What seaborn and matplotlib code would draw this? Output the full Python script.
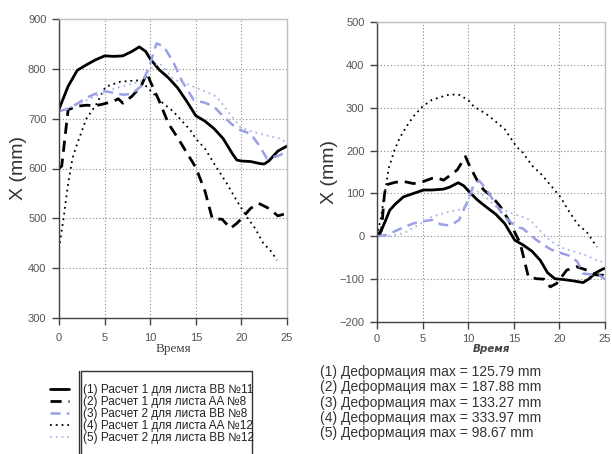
import numpy as np
import pandas as pd
import matplotlib
matplotlib.use("Agg")
import matplotlib.pyplot as plt
import seaborn as sns
from matplotlib.lines import Line2D
from matplotlib.patches import Rectangle

# ---------------- data ----------------
labels = ["(1) Расчет 1 для листа BB №11",
          "(2) Расчет 1 для листа AA №8",
          "(3) Расчет 2 для листа BB №8",
          "(4) Расчет 1 для листа AA №12",
          "(5) Расчет 2 для листа BB №12"]
info = ["(1) Деформация max = 125.79 mm",
        "(2) Деформация max = 187.88 mm",
        "(3) Деформация max = 133.27 mm",
        "(4) Деформация max = 333.97 mm",
        "(5) Деформация max = 98.67 mm"]
xticks = [0, 5, 10, 15, 20, 25]
yticks_left = [300, 400, 500, 600, 700, 800, 900]
yticks_right = [-200, -100, 0, 100, 200, 300, 400, 500]

# left panel
L1_x = [0, 1, 2, 3, 4, 5, 6, 7, 8, 8.8, 9.5, 10, 11, 12, 13, 14, 15, 16, 17, 18, 19, 19.5, 20, 21, 22, 22.5, 23, 24, 25]
L1_y = [719, 765, 797, 808, 818, 826, 825, 826, 835, 844, 835, 820, 798, 782, 762, 735, 706, 695, 680, 660, 630, 617, 615, 614, 610, 609, 615, 635, 645]
L2_x = [0, 0.3, 1, 2, 3, 4, 5, 6, 6.5, 7, 7.5, 8, 9, 9.65, 10, 11, 12, 13, 14, 15, 16, 16.8, 17.9, 18.8, 19.5, 20.2, 21, 21.9, 23, 24, 25]
L2_y = [600, 605, 718, 725, 727, 726, 730, 735, 740, 731, 738, 745, 765, 792, 775, 735, 690, 662, 632, 602, 555, 500, 498, 480, 490, 503, 520, 530, 520, 505, 510]
L3_x = [0, 1, 2, 3, 4, 5, 6, 7, 8, 9, 10, 10.7, 11.5, 12.6, 13.5, 14.8, 16, 17, 18, 19, 19.9, 21, 22, 22.8, 24, 25]
L3_y = [715, 720, 730, 742, 750, 755, 752, 748, 750, 765, 810, 851, 845, 811, 775, 737, 732, 724, 705, 688, 677, 670, 645, 620, 625, 634]
L4_x = [0, 0.5, 1, 1.5, 2, 3, 4, 5.1, 6.7, 8, 8.9, 10, 11.4, 12.5, 14.4, 15, 16, 17, 18.4, 19.5, 20.6, 21.5, 22.4, 23.2, 23.9]
L4_y = [439, 500, 570, 622, 650, 700, 726, 764, 774, 776, 777, 757, 731, 715, 677, 660, 640, 610, 570, 535, 503, 480, 450, 435, 416]
L5_x = [0, 2, 4, 6, 8, 9, 10, 11, 12.6, 14, 15, 16, 17.3, 18.5, 19.9, 21, 22, 23, 24.3, 25]
L5_y = [715, 728, 745, 760, 770, 775, 800, 812, 778, 770, 762, 755, 744, 715, 683, 675, 670, 665, 660, 650]

# right panel
R1_x = [0, 0.3, 1, 1.4, 2, 2.9, 4, 5.1, 6, 7.3, 8, 8.9, 9.5, 10.2, 11, 12, 13, 14, 15.1, 16, 17, 17.9, 18.7, 19.5, 20.5, 21.5, 22.6, 23.2, 24, 24.8, 25]
R1_y = [0, 5, 40, 61, 75, 92, 100, 108, 108, 110, 115, 125, 118, 102, 85, 68, 52, 30, -9, -20, -35, -56, -85, -99, -101, -104, -108, -100, -85, -76, -75]
R2_x = [0, 0.5, 0.8, 1, 2, 2.9, 4, 5.1, 6, 6.5, 7.3, 8, 8.8, 9.7, 10.2, 11, 11.7, 12.5, 13.5, 14.5, 15.7, 16.6, 17.5, 18.3, 19, 19.7, 20.8, 21.9, 23, 24, 24.8, 25]
R2_y = [0, 15, 95, 120, 126, 128, 123, 128, 135, 137, 131, 142, 155, 186, 162, 130, 108, 95, 70, 35, -16, -95, -99, -100, -118, -110, -79, -71, -79, -90, -91, -95]
R3_x = [0, 1, 2, 3, 4, 5, 6, 7, 8, 9, 10, 10.6, 11.2, 12, 13, 14, 15.3, 16, 17.5, 19, 19.7, 21.2, 22, 22.6, 24.4, 25]
R3_y = [0, 3, 12, 22, 30, 35, 38, 28, 25, 38, 85, 120, 130, 110, 75, 45, 22, 18, -9, -30, -36, -46, -60, -87, -91, -100]
R4_x = [0, 0.4, 0.85, 1.3, 1.9, 2.5, 3.2, 4, 5, 6, 7, 8, 9, 10, 10.6, 12, 13, 14, 15.3, 16, 17, 18, 19, 20.1, 21, 22, 23, 24.1]
R4_y = [0, 40, 100, 160, 200, 230, 255, 280, 303, 318, 325, 331, 330, 318, 303, 285, 268, 250, 209, 195, 165, 145, 120, 92, 60, 28, 10, -25]
R5_x = [0, 1, 2, 3, 4, 5, 6, 7, 8, 9, 9.7, 10.3, 11, 12, 13, 14, 15, 16, 16.8, 18, 19, 20.1, 21, 22, 23, 24.1, 25]
R5_y = [0, 0, 3, 8, 20, 32, 45, 52, 58, 62, 70, 100, 105, 90, 70, 60, 52, 45, 38, 10, -10, -25, -32, -38, -45, -56, -62]

left_series = [(L1_x, L1_y), (L2_x, L2_y), (L3_x, L3_y), (L4_x, L4_y), (L5_x, L5_y)]
right_series = [(R1_x, R1_y), (R2_x, R2_y), (R3_x, R3_y), (R4_x, R4_y), (R5_x, R5_y)]

# ---------------- styles ----------------
BLUE = "#9aa0e6"
BLUE2 = "#aab4e8"
styles = [
    dict(color="black", lw=2.0, ls="-"),
    dict(color="black", lw=2.0, ls=(0, (4.0, 2.5))),
    dict(color=BLUE, lw=1.8, ls=(0, (4.0, 2.5))),
    dict(color="black", lw=1.3, ls=(0, (1, 2.2))),
    dict(color=BLUE2, lw=1.3, ls=(0, (1, 2.2))),
]

sns.set_theme(style="white")
plt.rcParams['font.family'] = ['Liberation Sans', 'DejaVu Sans']

fig = plt.figure(figsize=(6.12, 4.54), dpi=100)
W, H = 612, 454

def px_axes(x0, y0, x1, y1):
    return fig.add_axes([x0 / W, 1 - y1 / H, (x1 - x0) / W, (y1 - y0) / H])

axL = px_axes(59, 19, 287, 318)
axR = px_axes(377, 22, 605, 322)

def draw(ax, series, ylim, yticks, xpad):
    for (xs, ys), st in zip(series, styles):
        df = pd.DataFrame({"t": xs, "v": ys})
        sns.lineplot(data=df, x="t", y="v", ax=ax, color=st["color"],
                     linewidth=st["lw"], linestyle=st["ls"], legend=False)
    ax.set_xlim(0, 25)
    ax.set_ylim(*ylim)
    ax.set_xticks(xticks)
    ax.set_yticks(yticks)
    ax.grid(True, color="#8a8a8a", linestyle=(0, (1, 2)), linewidth=0.8)
    for s in ["left", "bottom"]:
        ax.spines[s].set_color("#444444")
        ax.spines[s].set_linewidth(1.0)
    for s in ["top", "right"]:
        ax.spines[s].set_color("#c0c0c0")
        ax.spines[s].set_linewidth(1.0)
    ax.tick_params(axis="both", which="major", direction="out", length=5,
                   width=1, color="#444444", labelsize=8, labelcolor="#555555",
                   left=True, bottom=True)
    ax.tick_params(axis="y", pad=4)
    ax.tick_params(axis="x", pad=xpad)
    ax.set_ylabel("X (mm)", fontsize=14, color="#333333", labelpad=1)

draw(axL, left_series, (300, 900), yticks_left, 6)
draw(axR, right_series, (-200, 500), yticks_right, 4)

axL.set_xlabel("Время", family=["Liberation Serif", "DejaVu Serif"], fontsize=9.5,
               color="#444444", labelpad=0)
axR.set_xlabel("Время", family=["DejaVu Sans"], style="italic", fontsize=7.5,
               fontweight="bold", color="#444444", labelpad=0)

# ---------------- legend (left bottom) ----------------
handles = [Line2D([0], [0], color=st["color"], lw=st["lw"], linestyle=st["ls"]) for st in styles]
leg = fig.legend(handles, labels, loc="upper left",
                 bbox_to_anchor=(44 / W, 1 - 378 / H), frameon=False,
                 fontsize=8.5, handlelength=1.6, handletextpad=1.2,
                 labelspacing=0.0, borderpad=0, labelcolor="#222222")

fig.patches.append(Rectangle((81 / W, 1 - 460 / H), (252 - 81) / W, (460 - 371) / H,
                             transform=fig.transFigure, fill=False,
                             edgecolor="#333333", lw=1.0))
fig.add_artist(Line2D([78.5 / W, 78.5 / W], [1 - 460 / H, 1 - 371 / H],
                      transform=fig.transFigure, color="#333333", lw=1.0))

# ---------------- info text (right bottom) ----------------
for i, t in enumerate(info):
    fig.text(320 / W, 1 - (372 + 15.3 * i) / H, t, fontsize=10,
             color="#333333", va="center", ha="left")

fig.savefig("out.png", dpi=100)
